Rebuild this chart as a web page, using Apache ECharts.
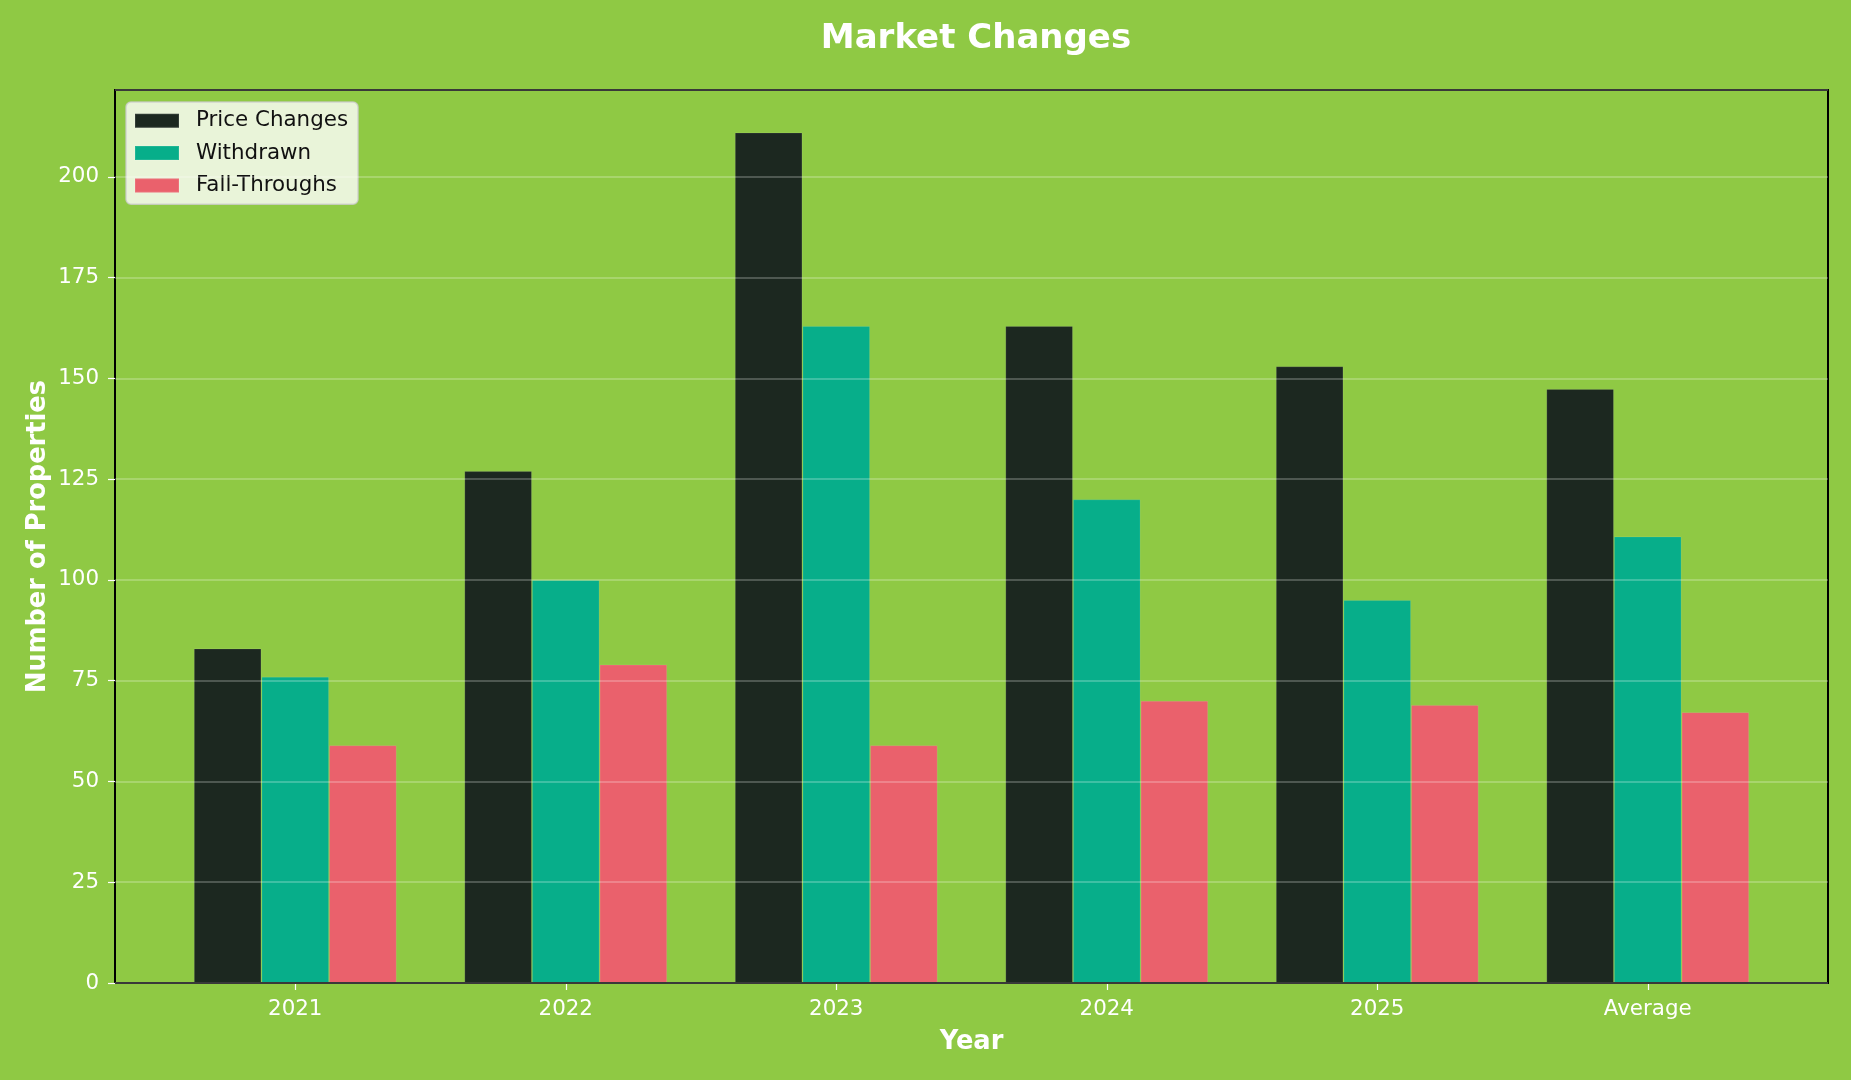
<!DOCTYPE html>
<html>
<head>
<meta charset="utf-8">
<script src="https://cdn.jsdelivr.net/npm/echarts@6/dist/echarts.min.js"></script>
<style>
html,body{margin:0;padding:0;background:#8fc944;}
#chart{width:1851px;height:1080px;}
</style>
</head>
<body>
<div id="chart"></div>
<script>
const categories = ['2021', '2022', '2023', '2024', '2025', 'Average'];
const priceChanges = [83, 127, 211, 163, 153, 147.4];
const withdrawn = [76, 100, 163, 120, 95, 110.8];
const fallThroughs = [59, 79, 59, 70, 69, 67.2];
const yTicks = { min: 0, max: 221.55, interval: 25 };

const FONT = 'DejaVu Sans';
const chart = echarts.init(document.getElementById('chart'), null, { renderer: 'canvas' });

const barStyle = (color) => ({ color: color, borderColor: 'rgba(255,255,255,0.1)', borderWidth: 1 });

chart.setOption({
  backgroundColor: '#8fc944',
  animation: false,
  textStyle: { fontFamily: FONT },
  title: {
    text: 'Market Changes',
    left: 971, top: 17, textAlign: 'center',
    textStyle: { color: '#ffffff', fontSize: 34, fontWeight: 'bold', fontFamily: FONT }
  },
  legend: {
    orient: 'vertical',
    left: 126, top: 102,
    padding: [8, 10, 8, 8],
    itemWidth: 44, itemHeight: 14, itemGap: 11,
    backgroundColor: 'rgba(255,255,255,0.8)',
    borderColor: 'rgba(204,204,204,0.8)', borderWidth: 1.5, borderRadius: 5,
    icon: 'rect',
    textStyle: { color: '#111', fontSize: 21.4, lineHeight: 21.4, fontFamily: FONT, padding: [0, 0, 0, 12] },
    data: ['Price Changes', 'Withdrawn', 'Fall-Throughs']
  },
  grid: [
    { left: 115, right: 23, top: 90, bottom: 97, show: true, borderColor: '#000', borderWidth: 2, backgroundColor: 'transparent', z: 10 },
    { left: 160, right: 68, top: 90, bottom: 97 }
  ],
  xAxis: [
    { gridIndex: 0, type: 'value', min: 0, max: 1, show: false },
    {
      gridIndex: 1, type: 'category', data: categories,
      axisLine: { show: false },
      axisTick: { show: true, alignWithLabel: true, length: 7, lineStyle: { color: '#ffffff', width: 1.2 } },
      axisLabel: { color: '#ffffff', fontSize: 21.4, margin: 16, fontFamily: FONT },
      name: 'Year', nameLocation: 'middle', nameGap: 46,
      nameTextStyle: { color: '#ffffff', fontSize: 25.7, fontWeight: 'bold', fontFamily: FONT }
    }
  ],
  yAxis: [
    {
      gridIndex: 0, type: 'value', min: yTicks.min, max: yTicks.max, interval: yTicks.interval, z: 10,
      axisLine: { show: false },
      axisTick: { show: true, length: 7, lineStyle: { color: '#ffffff', width: 1.2 } },
      axisLabel: { color: '#ffffff', fontSize: 21.4, margin: 16, fontFamily: FONT, showMaxLabel: false },
      splitLine: { show: true, lineStyle: { color: 'rgba(255,255,255,0.3)', width: 1.5 } },
      name: 'Number of Properties', nameLocation: 'middle', nameGap: 64, nameMoveOverlap: false,
      nameTextStyle: { color: '#ffffff', fontSize: 25.7, fontWeight: 'bold', fontFamily: FONT }
    },
    { gridIndex: 1, type: 'value', min: yTicks.min, max: yTicks.max, show: false }
  ],
  series: [
    { name: 'Price Changes', type: 'bar', xAxisIndex: 1, yAxisIndex: 1, data: priceChanges, barWidth: '25%', barGap: '0%', itemStyle: barStyle('#1c2820') },
    { name: 'Withdrawn', type: 'bar', xAxisIndex: 1, yAxisIndex: 1, data: withdrawn, barWidth: '25%', barGap: '0%', itemStyle: barStyle('#07ae8a') },
    { name: 'Fall-Throughs', type: 'bar', xAxisIndex: 1, yAxisIndex: 1, data: fallThroughs, barWidth: '25%', barGap: '0%', itemStyle: barStyle('#ea616c') }
  ]
});
</script>
</body>
</html>
